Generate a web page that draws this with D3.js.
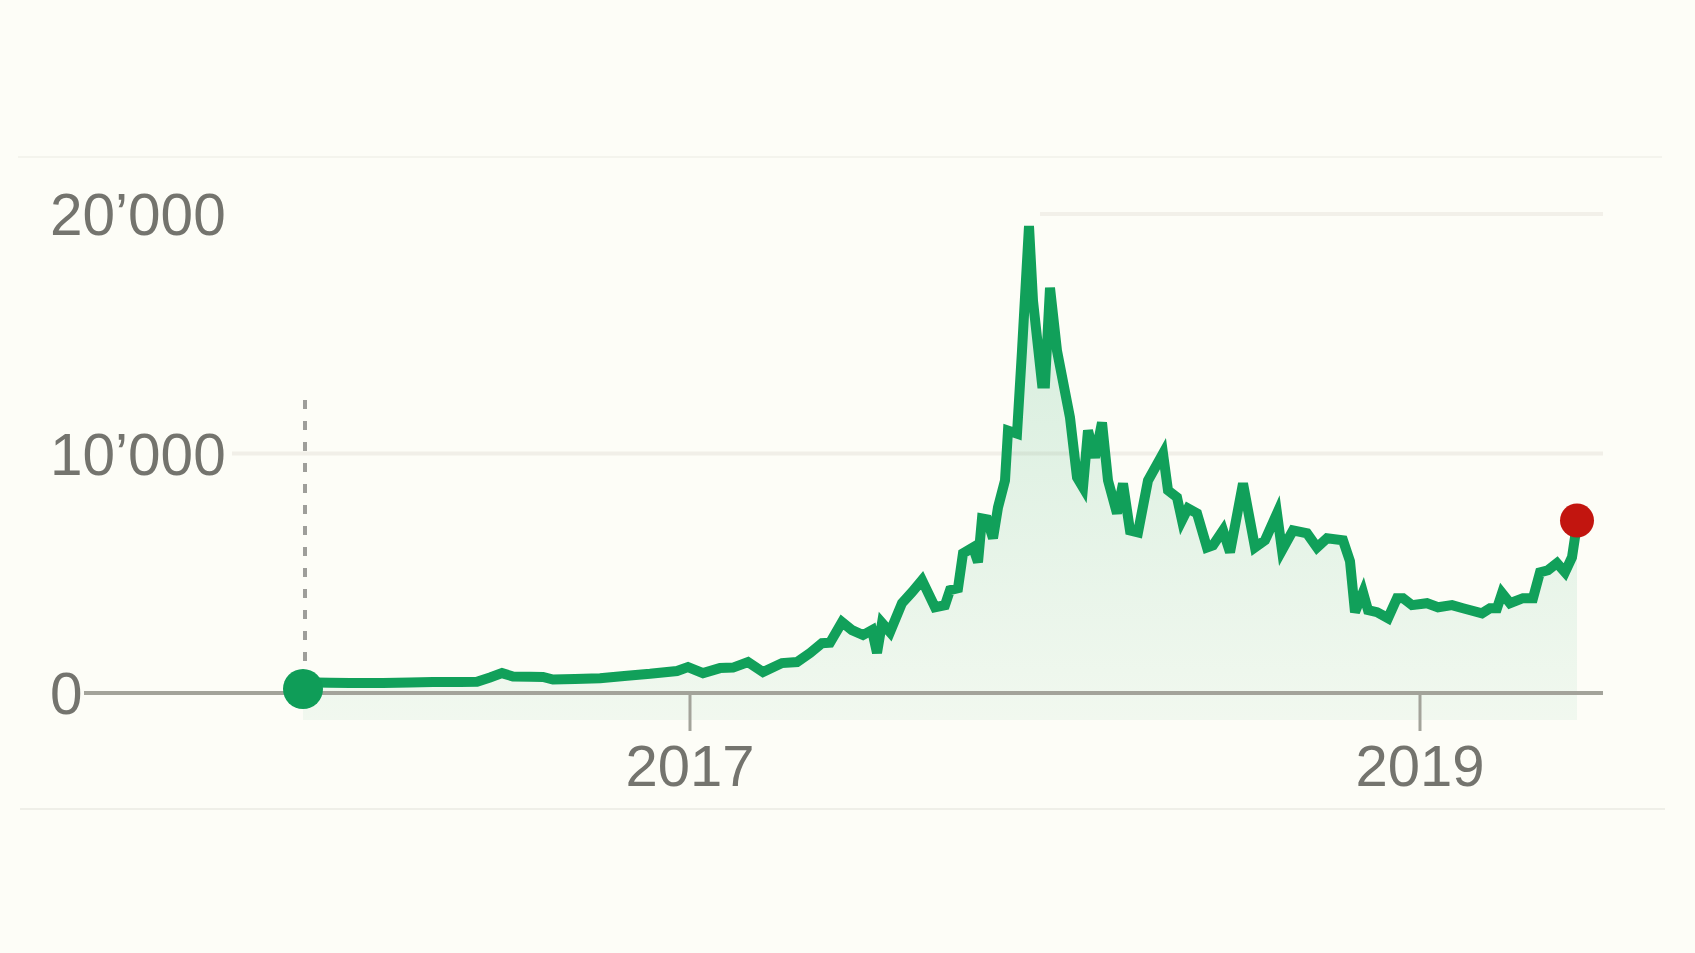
<!DOCTYPE html>
<html>
<head>
<meta charset="utf-8">
<script src="https://cdn.jsdelivr.net/npm/d3@7"></script>
<style>
  html, body { margin: 0; padding: 0; background: #fdfdf7; }
  svg { display: block; }
</style>
</head>
<body>
<svg id="chart" width="1695" height="953"></svg>
<script>
// ---- Data ----
const dates = [
  "2015-12-11","2016-01-07","2016-01-27","2016-02-29","2016-03-27","2016-04-19","2016-05-16","2016-06-02",
  "2016-06-15","2016-06-27","2016-07-08","2016-07-25","2016-08-07","2016-08-17","2016-09-08","2016-10-03",
  "2016-10-30","2016-11-22","2016-12-19","2016-12-30","2017-01-14","2017-01-31","2017-02-13","2017-02-28",
  "2017-03-15","2017-04-03","2017-04-18","2017-05-01","2017-05-13","2017-05-21","2017-06-02","2017-06-12",
  "2017-06-23","2017-07-02","2017-07-07","2017-07-12","2017-07-20","2017-08-01","2017-08-11","2017-08-21",
  "2017-09-03","2017-09-13","2017-09-18","2017-09-26","2017-10-01","2017-10-11","2017-10-16","2017-10-20",
  "2017-10-25","2017-10-31","2017-11-05","2017-11-12","2017-11-15","2017-11-24","2017-11-29","2017-12-06",
  "2017-12-10","2017-12-19","2017-12-22","2017-12-27","2018-01-03","2018-01-16","2018-01-23","2018-01-29",
  "2018-02-03","2018-02-10","2018-02-17","2018-02-23","2018-03-04","2018-03-10","2018-03-17","2018-03-25",
  "2018-04-04","2018-04-19","2018-04-24","2018-05-03","2018-05-08","2018-05-14","2018-05-23","2018-06-02",
  "2018-06-08","2018-06-18","2018-06-25","2018-07-08","2018-07-20","2018-07-30","2018-08-11","2018-08-16",
  "2018-08-27","2018-09-10","2018-09-20","2018-09-30","2018-10-16","2018-10-23","2018-10-28","2018-11-05",
  "2018-11-10","2018-11-19","2018-11-30","2018-12-09","2018-12-15","2018-12-24","2019-01-08","2019-01-19",
  "2019-02-02","2019-02-13","2019-03-04","2019-03-12","2019-03-19","2019-03-24","2019-04-01","2019-04-14",
  "2019-04-24","2019-05-01","2019-05-09","2019-05-18","2019-05-26","2019-06-02","2019-06-05","2019-06-07"
];
const prices = [
  450, 430, 420, 420, 440, 460, 460, 470,
  650, 830, 690, 680, 670, 560, 580, 620,
  720, 800, 920, 1080, 830, 1040, 1060, 1290,
  875, 1250, 1290, 1670, 2080, 2100, 2960, 2625,
  2420, 2625, 1670, 2920, 2540, 3750, 4210, 4710,
  3580, 3670, 4290, 4375, 5830, 6080, 5460, 7290,
  7250, 6460, 7750, 8875, 10960, 10830, 14290, 19500,
  16375, 12920, 12920, 16920, 14290, 11500, 9000, 8580,
  10960, 9830, 11290, 8875, 7500, 8750, 6790, 6710,
  8875, 10000, 8460, 8170, 7210, 7710, 7500, 6080,
  6170, 6790, 5875, 8750, 6080, 6375, 7500, 5960,
  6790, 6670, 6080, 6460, 6375, 5500, 3375, 4200,
  3460, 3375, 3125, 3960, 3960, 3670, 3750, 3580,
  3670, 3540, 3330, 3540, 3540, 4170, 3750, 3960,
  3960, 5040, 5125, 5420, 5040, 5670, 6500, 7200
];
const yTickValues = [0, 10000, 20000];
const yTickLabels = ["0", "10’000", "20’000"];
const xTickDates = ["2017-01-01", "2019-01-01"];
const xTickLabels = ["2017", "2019"];

// ---- Setup ----
const parse = d3.timeParse("%Y-%m-%d");
const data = dates.map((d, i) => ({ date: parse(d), value: prices[i] }));

const svg = d3.select("#chart");
const W = 1695, H = 953;
svg.append("rect").attr("width", W).attr("height", H).attr("fill", "#fdfdf7");

const x = d3.scaleTime()
  .domain(d3.extent(data, d => d.date))
  .range([303, 1577]);
const y = d3.scaleLinear().domain([0, 20000]).range([693, 214]);

const font = "'Liberation Sans', Arial, Helvetica, sans-serif";
const textColor = "#74746e";

// frame lines (top & bottom separators)
svg.append("line").attr("x1", 18).attr("x2", 1662).attr("y1", 157).attr("y2", 157)
  .attr("stroke", "#f4f4ed").attr("stroke-width", 2);
svg.append("line").attr("x1", 20).attr("x2", 1665).attr("y1", 809).attr("y2", 809)
  .attr("stroke", "#efefe8").attr("stroke-width", 2);

// gridlines
svg.append("line").attr("x1", 232).attr("x2", 1603)
  .attr("y1", y(10000)).attr("y2", y(10000))
  .attr("stroke", "#f1efe8").attr("stroke-width", 4);
svg.append("line").attr("x1", 1040).attr("x2", 1603)
  .attr("y1", y(20000)).attr("y2", y(20000))
  .attr("stroke", "#f2f0e9").attr("stroke-width", 4);

// gradient for area
const defs = svg.append("defs");
const grad = defs.append("linearGradient").attr("id", "areaGrad")
  .attr("gradientUnits", "userSpaceOnUse")
  .attr("x1", 0).attr("x2", 0).attr("y1", y(20000)).attr("y2", 720);
grad.append("stop").attr("offset", "0%").attr("stop-color", "#0f9d58").attr("stop-opacity", 0.18);
grad.append("stop").attr("offset", "100%").attr("stop-color", "#0f9d58").attr("stop-opacity", 0.05);

const area = d3.area()
  .x(d => x(d.date))
  .y0(720)
  .y1(d => y(d.value));
svg.append("path").datum(data).attr("d", area).attr("fill", "url(#areaGrad)");

// baseline axis
svg.append("line").attr("x1", 84).attr("x2", 1603)
  .attr("y1", y(0)).attr("y2", y(0))
  .attr("stroke", "#a3a39a").attr("stroke-width", 4);

// x ticks
xTickDates.forEach((d, i) => {
  const xp = x(parse(d));
  svg.append("line").attr("x1", xp).attr("x2", xp)
    .attr("y1", y(0)).attr("y2", 731)
    .attr("stroke", "#a3a39a").attr("stroke-width", 3);
  svg.append("text").attr("x", xp).attr("y", 786)
    .attr("text-anchor", "middle")
    .attr("font-family", font).attr("font-size", 58)
    .attr("fill", textColor).text(xTickLabels[i]);
});

// y labels
yTickValues.forEach((v, i) => {
  svg.append("text").attr("x", 50).attr("y", y(v) + 21)
    .attr("text-anchor", "start")
    .attr("font-family", font).attr("font-size", 58.5)
    .attr("fill", textColor).text(yTickLabels[i]);
});

// dashed vertical marker at start
const x0 = x(data[0].date);
svg.append("line").attr("x1", x0 + 2).attr("x2", x0 + 2)
  .attr("y1", 400).attr("y2", 680)
  .attr("stroke", "#9e9e9a").attr("stroke-width", 4)
  .attr("stroke-dasharray", "9,12");

// price line
const line = d3.line().x(d => x(d.date)).y(d => y(d.value));
svg.append("path").datum(data).attr("d", line)
  .attr("fill", "none").attr("stroke", "#11a05a")
  .attr("stroke-width", 10).attr("stroke-linejoin", "miter");

// start & end dots
svg.append("circle").attr("cx", x0).attr("cy", 689).attr("r", 20).attr("fill", "#0f9d58");
const last = data[data.length - 1];
svg.append("circle").attr("cx", x(last.date)).attr("cy", y(last.value)).attr("r", 17).attr("fill", "#c2150f");
</script>
</body>
</html>
